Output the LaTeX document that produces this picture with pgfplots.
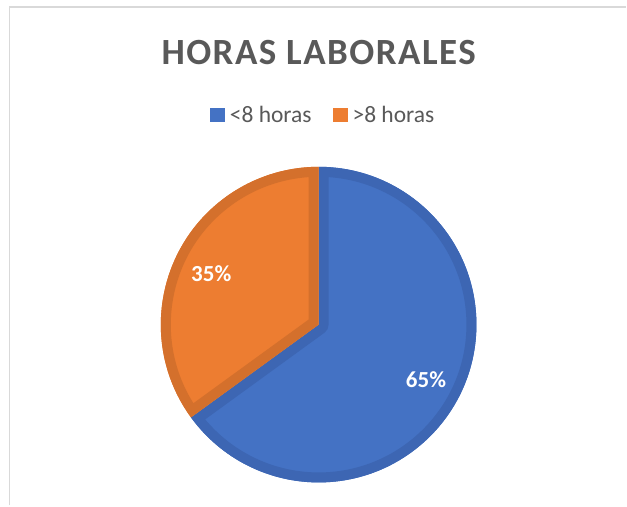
\documentclass[border=0pt]{standalone}
\usepackage{fontspec}
\setmainfont{Carlito}
\usepackage{pgfplots}
\usepackage{pgfplotstable}
\pgfplotsset{compat=1.18}

\definecolor{pieBlue}{HTML}{4472C4}
\definecolor{pieBlueDk}{HTML}{3D66B3}
\definecolor{pieOrange}{HTML}{ED7D31}
\definecolor{pieOrangeDk}{HTML}{D4702C}
\definecolor{txtgray}{HTML}{595959}
\definecolor{framegray}{HTML}{D9D9D9}

% porcentaje de trabajadores por horas laborales
\pgfplotstableread[col sep=comma]{
label,value
<8 horas,65
>8 horas,35
}\horas

\begin{document}
\begin{tikzpicture}
\pgfplotstablegetelem{0}{value}\of\horas \edef\va{\pgfplotsretval}
\pgfplotstablegetelem{1}{value}\of\horas \edef\vb{\pgfplotsretval}
\pgfmathsetmacro{\aend}{90-3.6*\va}
\pgfmathsetmacro{\bend}{\aend-3.6*\vb}
\begin{axis}[
    width=627pt, height=506pt, scale only axis,
    xmin=0, xmax=627, ymin=0, ymax=506,
    hide axis, clip=false,
    legend columns=2,
    legend style={
        at={(axis cs:322.5,390.5)}, anchor=center,
        draw=none, fill=none, inner sep=0pt, text=txtgray,
        font=\fontsize{23.5}{27}\selectfont,
        nodes={inner sep=0pt},
        /tikz/every odd column/.append style={column sep=5pt},
        /tikz/every even column/.append style={column sep=21pt},
    },
    legend image code/.code={\fill[#1] (0pt,-7pt) rectangle (15pt,7.5pt);},
    ]
    \path (axis cs:0,0) rectangle (axis cs:627,506);
    \draw[framegray, line width=1.5pt] (axis cs:9.5,0) -- (axis cs:9.5,499) -- (axis cs:627,499);

    \node[txtgray, font=\bfseries\fontsize{37}{44}\selectfont\addfontfeatures{LetterSpace=4}] at (axis cs:319,453.5) {HORAS LABORALES};

    \addlegendimage{fill=pieBlue, draw=none}
    \addlegendentry{<8 horas}
    \addlegendimage{fill=pieOrange, draw=none}
    \addlegendentry{>8 horas}

    % sector 1
    \fill[pieBlue] (axis cs:319,181) -- ++(90:158) arc[start angle=90, end angle=\aend, radius=158] -- cycle;
    \begin{scope}
        \clip (axis cs:319,181) -- ++(90:158) arc[start angle=90, end angle=\aend, radius=158] -- cycle;
        \draw[pieBlueDk, line width=20pt, line join=round] (axis cs:319,181) -- ++(90:158) arc[start angle=90, end angle=\aend, radius=158] -- cycle;
    \end{scope}
    % sector 2
    \fill[pieOrange] (axis cs:319,181) -- ++(\aend:158) arc[start angle=\aend, end angle=\bend, radius=158] -- cycle;
    \begin{scope}
        \clip (axis cs:319,181) -- ++(\aend:158) arc[start angle=\aend, end angle=\bend, radius=158] -- cycle;
        \draw[pieOrangeDk, line width=20pt, line join=round] (axis cs:319,181) -- ++(\aend:158) arc[start angle=\aend, end angle=\bend, radius=158] -- cycle;
    \end{scope}

    \node[white, font=\bfseries\fontsize{23}{27}\selectfont] at (axis cs:426.5,125.5) {\va\%};
    \node[white, font=\bfseries\fontsize{23}{27}\selectfont] at (axis cs:211.5,232) {\vb\%};
\end{axis}
\end{tikzpicture}
\end{document}
